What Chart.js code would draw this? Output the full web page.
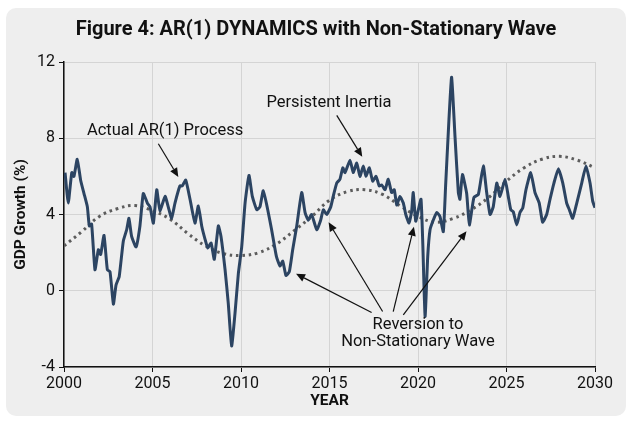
<!DOCTYPE html>
<html>
<head>
<meta charset="utf-8">
<script src="https://cdn.jsdelivr.net/npm/chart.js@4.4.1/dist/chart.umd.min.js"></script>
<style>
  html, body { margin: 0; padding: 0; background: #ffffff; }
  #wrap { position: relative; width: 632px; height: 424px; }
  #card { position: absolute; left: 6px; top: 8px; width: 620px; height: 408px; background: #eeeeee; border-radius: 10px; }
  #myChart { position: absolute; left: 0; top: 0; }
</style>
</head>
<body>
<div id="wrap">
  <div id="card"></div>
  <canvas id="myChart" width="632" height="424"></canvas>
</div>
<script>
// AR(1) process (year, GDP growth %)
const ar1Years = [2000.06,2000.24,2000.44,2000.56,2000.75,2000.94,2001.13,2001.32,2001.43,2001.56,2001.75,2001.94,2002.07,2002.26,2002.45,2002.6,2002.79,2002.94,2003.12,2003.35,2003.54,2003.67,2003.82,2004.07,2004.29,2004.48,2004.71,2004.86,2005.05,2005.24,2005.42,2005.71,2005.89,2006.08,2006.27,2006.55,2006.68,2006.88,2007.12,2007.4,2007.59,2007.78,2007.97,2008.12,2008.31,2008.49,2008.72,2008.87,2009.1,2009.28,2009.47,2009.66,2009.85,2010.04,2010.23,2010.45,2010.64,2010.89,2011.07,2011.26,2011.51,2011.73,2012.0,2012.2,2012.36,2012.54,2012.73,2012.92,2013.15,2013.43,2013.62,2013.8,2013.99,2014.28,2014.5,2014.65,2014.84,2015.07,2015.21,2015.41,2015.59,2015.75,2015.88,2016.16,2016.34,2016.54,2016.72,2016.91,2017.06,2017.25,2017.44,2017.63,2017.81,2017.95,2018.14,2018.32,2018.51,2018.66,2018.8,2018.98,2019.17,2019.31,2019.49,2019.64,2019.73,2019.87,2020.02,2020.17,2020.27,2020.4,2020.55,2020.68,2020.86,2021.06,2021.24,2021.43,2021.56,2021.75,2021.9,2022.09,2022.28,2022.37,2022.51,2022.75,2022.9,2023.16,2023.41,2023.69,2023.88,2024.07,2024.25,2024.45,2024.63,2024.92,2025.1,2025.24,2025.38,2025.58,2025.76,2025.92,2026.1,2026.37,2026.61,2026.85,2027.04,2027.27,2027.46,2027.68,2027.93,2028.18,2028.4,2028.55,2028.74,2028.97,2029.25,2029.49,2029.72,2029.87,2030.0];
const ar1Values = [6.2,4.6,6.2,6.0,6.9,5.8,5.1,4.4,3.4,3.5,1.1,2.15,1.9,2.9,1.1,1.0,-0.7,0.3,0.75,2.6,3.2,3.8,2.85,2.3,3.4,5.1,4.6,4.4,3.55,5.3,4.2,4.95,4.4,3.8,4.6,5.5,5.5,5.8,4.8,3.55,4.45,3.4,2.7,2.25,2.5,1.65,3.4,2.85,1.1,-0.65,-2.9,-1.2,0.9,2.3,4.6,6.05,4.95,4.25,4.4,5.25,4.25,3.2,1.8,1.3,1.55,0.8,1.0,2.15,3.4,5.15,4.1,3.7,4.0,3.2,3.7,4.25,4.0,4.4,4.95,5.65,5.85,6.45,6.2,6.85,6.2,6.7,6.0,6.55,6.0,6.45,5.75,6.0,5.5,5.55,5.3,5.85,5.15,5.3,4.5,4.95,4.6,4.0,3.55,4.15,5.15,3.65,4.25,4.8,2.5,-1.35,1.8,3.2,3.7,4.1,3.9,3.1,5.5,9.0,11.2,8.1,5.15,4.8,6.1,5.1,3.45,4.9,5.05,6.55,5.15,4.0,4.4,5.65,4.95,5.85,4.95,4.25,4.15,3.45,4.1,4.35,5.3,6.2,5.15,4.6,3.6,4.0,4.8,5.65,6.4,5.65,4.6,4.25,3.8,4.6,5.65,6.55,5.65,4.7,4.35];

// non-stationary wave (dotted), one reading per year
const waveYears = [2000,2001,2002,2003,2004,2005,2006,2007,2008,2009,2010,2011,2012,2013,2014,2015,2016,2017,2018,2019,2020,2021,2022,2023,2024,2025,2026,2027,2028,2029,2030];
const waveValues = [2.35,3.1,3.9,4.3,4.47,4.2,3.75,3.0,2.35,1.95,1.85,2.0,2.45,3.15,3.9,4.75,5.2,5.3,5.05,4.45,3.9,3.6,3.8,4.25,4.9,5.75,6.45,6.9,7.05,6.85,6.45];

const xTicks = [2000, 2005, 2010, 2015, 2020, 2025, 2030];
const yTicks = [-4, 0, 4, 8, 12];

const TITLE = 'Figure 4: AR(1) DYNAMICS with Non-Stationary Wave';

// annotations, positions in data units (year, %)
const labels = [
    {lines: ["Actual AR(1) Process"], x: 2005.71, y: 8.41},
    {lines: ["Persistent Inertia"], x: 2014.97, y: 9.83},
    {lines: ["Reversion to", "Non-Stationary Wave"], x: 2020.0, y: -2.26}
];
const arrows = [
    {from: [2005.33, 7.71], to: [2006.46, 5.97]},
    {from: [2015.41, 9.2], to: [2016.85, 7.03]},
    {from: [2017.38, -1.14], to: [2013.11, 0.89]},
    {from: [2018.0, -1.09], to: [2014.95, 3.59]},
    {from: [2018.6, -1.09], to: [2019.77, 3.36]},
    {from: [2019.17, -1.26], to: [2022.74, 3.12]}
];

const FONT = "Roboto, 'Noto Sans', sans-serif";

// title + notes with arrows
const notesPlugin = {
    id: 'notes',
    afterDatasetsDraw(chart) {
        const ctx = chart.ctx;
        const xs = chart.scales.x, ys = chart.scales.y;
        ctx.save();
        ctx.fillStyle = '#111';
        ctx.strokeStyle = '#111';
        ctx.textAlign = 'center';
        ctx.textBaseline = 'middle';

        ctx.font = "bold 20px " + FONT;
        ctx.fillText(TITLE, chart.width / 2, 30);

        ctx.font = "16.5px " + FONT;
        labels.forEach(l => {
            const cx = xs.getPixelForValue(l.x);
            const cy = ys.getPixelForValue(l.y);
            const lh = 17;
            const y0 = cy - (l.lines.length - 1) * lh / 2;
            l.lines.forEach((t, i) => ctx.fillText(t, cx, y0 + i * lh));
        });
        ctx.lineWidth = 1.2;
        arrows.forEach(a => {
            const x1 = xs.getPixelForValue(a.from[0]), y1 = ys.getPixelForValue(a.from[1]);
            const x2 = xs.getPixelForValue(a.to[0]), y2 = ys.getPixelForValue(a.to[1]);
            const ang = Math.atan2(y2 - y1, x2 - x1);
            const hl = 9, hw = 4;
            const bx = x2 - hl * Math.cos(ang), by = y2 - hl * Math.sin(ang);
            ctx.beginPath();
            ctx.moveTo(x1, y1);
            ctx.lineTo(bx, by);
            ctx.stroke();
            ctx.beginPath();
            ctx.moveTo(x2, y2);
            ctx.lineTo(bx + hw * Math.sin(ang), by - hw * Math.cos(ang));
            ctx.lineTo(bx - hw * Math.sin(ang), by + hw * Math.cos(ang));
            ctx.closePath();
            ctx.fill();
        });
        ctx.restore();
    }
};

const ctx = document.getElementById('myChart').getContext('2d');
new Chart(ctx, {
    type: 'line',
    data: {
        datasets: [
            {
                label: 'Actual AR(1) Process',
                data: ar1Years.map((x, i) => ({x: x, y: ar1Values[i]})),
                borderColor: '#2c4462',
                borderWidth: 3,
                pointRadius: 0,
                tension: 0.15,
                borderJoinStyle: 'round'
            },
            {
                label: 'Non-Stationary Wave',
                data: waveYears.map((x, i) => ({x: x, y: waveValues[i]})),
                borderColor: '#5c5c5c',
                borderWidth: 3,
                borderDash: [2.6, 3.8],
                pointRadius: 0,
                tension: 0.4
            }
        ]
    },
    options: {
        responsive: false,
        animation: false,
        layout: {padding: {left: 0, right: 37, top: 62, bottom: 0}},
        plugins: {
            legend: {display: false},
            tooltip: {enabled: false},
            title: {display: false}
        },
        scales: {
            x: {
                type: 'linear',
                min: 2000,
                max: 2030,
                afterBuildTicks: s => { s.ticks = xTicks.map(v => ({value: v})); },
                afterFit: s => { s.height = 57; },
                ticks: {
                    color: '#111',
                    font: {family: FONT, size: 16},
                    padding: 2,
                    maxRotation: 0,
                    callback: v => String(v)
                },
                grid: {color: '#d4d4d4', lineWidth: 1, tickLength: 5, tickColor: '#111'},
                border: {color: '#111', width: 1.5},
                title: {
                    display: true,
                    text: 'YEAR',
                    color: '#111',
                    font: {family: FONT, size: 15.5, weight: 'bold'},
                    padding: {top: 0, bottom: 14}
                }
            },
            y: {
                min: -4,
                max: 12,
                afterBuildTicks: s => { s.ticks = yTicks.map(v => ({value: v})); },
                afterFit: s => { s.width = 64; },
                ticks: {
                    color: '#111',
                    font: {family: FONT, size: 16},
                    padding: 4
                },
                grid: {color: '#d4d4d4', lineWidth: 1, tickLength: 5, tickColor: '#111'},
                border: {color: '#111', width: 1.5},
                title: {
                    display: true,
                    text: 'GDP Growth (%)',
                    color: '#111',
                    font: {family: FONT, size: 15.5, weight: 'bold'},
                    padding: {top: 12, bottom: 0}
                }
            }
        }
    },
    plugins: [notesPlugin]
});
</script>
</body>
</html>
